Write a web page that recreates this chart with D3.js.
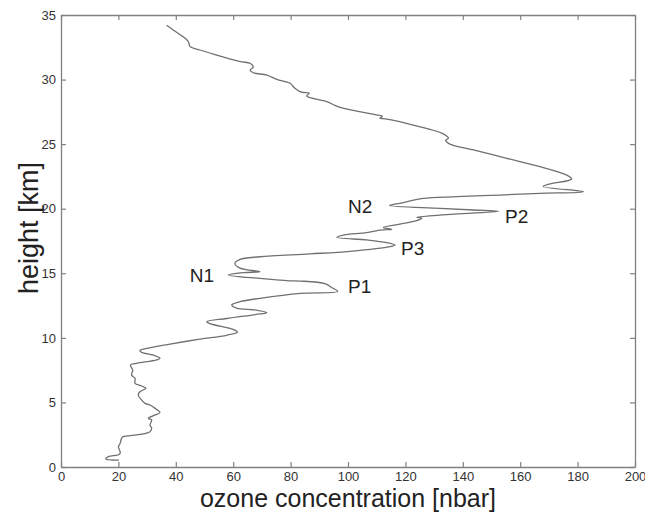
<!DOCTYPE html>
<html>
<head>
<meta charset="utf-8">
<script src="https://cdn.jsdelivr.net/npm/d3@7"></script>
<style>
  body { margin: 0; background: #fff; }
  svg { font-family: "Liberation Sans", Arial, sans-serif; }
</style>
</head>
<body>
<div id="chart"></div>
<script>
// ozone profile, from the ground upward
const ozone = [20.2, 15.6, 16.5, 19.8, 20.6, 20.6, 20, 20.6, 21.1, 21.7, 26.4, 31, 31.6, 31, 31.6, 30.4, 32.8, 34.5,
  32.8, 31, 29.3, 28.1, 26.9, 27.5, 29.6, 28.1, 25.8, 25.8, 24.6, 25, 24.2, 26.4, 33.3, 34.5, 32.2, 28.1, 27.5, 29.9,
  38, 48.4, 57.7, 61.5, 60, 51.9, 50.8, 57.7, 69.3, 71.7, 68, 61.2, 59.5, 62.4, 69.3, 83.3, 96.4, 94.3, 92, 83.3,
  79.8, 69.3, 58.3, 63.5, 69.3, 62.4, 60.6, 62.4, 69.3, 86.8, 100.7, 114.6, 116.4, 113.5, 106.5, 96.1, 98.4, 106.5,
  111.1, 115.2, 112.3, 118.1, 123.9, 125.7, 123.9, 132.1, 152.5, 143.7, 132.1, 114.5, 118.1, 126.2, 137.9, 153,
  166.9, 182, 168, 170, 177.9, 176.2, 166.9, 155.3, 143.7, 135.5, 134, 135, 133.2, 120.4, 113, 111.1, 112, 110,
  97.2, 92.6, 85.6, 86.5, 84.5, 83.3, 81.5, 79.8, 75.2, 71.7, 67, 65.9, 67, 65.9, 62.4, 54.3, 48.4, 45, 44.4,
  43.2, 39.1, 36.8];
const height = [0.54, 0.62, 0.8, 0.93, 1.05, 1.19, 1.57, 1.83, 2.22, 2.35, 2.48, 2.73, 3.0, 3.25, 3.64, 3.77, 4.03, 4.22,
  4.54, 4.8, 4.93, 5.19, 5.58, 5.83, 6.09, 6.27, 6.48, 6.87, 7.12, 7.5, 7.9, 8.03, 8.29, 8.42, 8.67, 8.88, 9.02, 9.19,
  9.52, 9.9, 10.2, 10.45, 10.65, 11.1, 11.25, 11.5, 11.85, 11.95, 12.15, 12.3, 12.55, 12.8, 13.06, 13.45, 13.6, 13.9, 14.2, 14.4,
  14.42, 14.6, 14.87, 15.05, 15.12, 15.4, 15.77, 16.08, 16.28, 16.5, 16.7, 17.06, 17.19, 17.37, 17.58, 17.79, 17.96, 18.15,
  18.35, 18.4, 18.55, 18.8, 19.07, 19.26, 19.33, 19.51, 19.8, 19.9, 20.03, 20.25, 20.42, 20.8, 20.93, 21.06,
  21.19, 21.32, 21.72, 21.9, 22.3, 22.6, 23.25, 23.9, 24.55, 25.0, 25.3, 25.45, 25.8, 26.6, 26.95, 27.0, 27.15, 27.26,
  27.85, 28.29, 28.73, 28.95, 29.0, 29.06, 29.32, 29.71, 30.02, 30.35, 30.53, 30.74, 30.95, 31.26, 31.39, 31.9, 32.29, 32.55, 32.93,
  33.2, 33.84, 34.2];

const xTicks = [0, 20, 40, 60, 80, 100, 120, 140, 160, 180, 200];
const yTicks = [0, 5, 10, 15, 20, 25, 30, 35];

// peak labels, placed at (ozone, height) of the text's left baseline
const labelNames = ["N2", "P2", "P3", "P1", "N1"];
const labelOzone = [100, 154.7, 118.5, 100, 44.9];
const labelHeight = [19.67, 18.89, 16.42, 13.47, 14.33];

const W = 645, H = 513;
const margin = { top: 15, right: 10, bottom: 46, left: 61 };
const width = W - margin.left - margin.right;
const plotH = H - margin.top - margin.bottom;

const svg = d3.select("#chart").append("svg")
  .attr("width", W)
  .attr("height", H);

const g = svg.append("g")
  .attr("transform", `translate(${margin.left},${margin.top})`);

const x = d3.scaleLinear().domain([0, 200]).range([0, width]);
const y = d3.scaleLinear().domain([0, 35]).range([plotH, 0]);

const axisColor = "#808080";

// box with inward ticks, matlab style
const axBottom = g.append("g")
  .attr("transform", `translate(0,${plotH})`)
  .call(d3.axisBottom(x).tickValues(xTicks).tickSizeInner(-5).tickSizeOuter(0).tickPadding(5));
const axLeft = g.append("g")
  .call(d3.axisLeft(y).tickValues(yTicks).tickSizeInner(-5).tickSizeOuter(0).tickPadding(5));
const axTop = g.append("g")
  .call(d3.axisTop(x).tickValues(xTicks).tickSizeInner(-5).tickSizeOuter(0).tickFormat(""));
const axRight = g.append("g")
  .attr("transform", `translate(${width},0)`)
  .call(d3.axisRight(y).tickValues(yTicks).tickSizeInner(-5).tickSizeOuter(0).tickFormat(""));

[axBottom, axLeft, axTop, axRight].forEach(a => {
  a.select(".domain").attr("stroke", axisColor).attr("stroke-width", 1.3);
  a.selectAll(".tick line").attr("stroke", axisColor).attr("stroke-width", 1.2);
  a.selectAll(".tick text").attr("fill", "#333").style("font-size", "13px");
});

// profile curve
const pts = ozone.map((v, i) => [v, height[i]]);
const line = d3.line()
  .x(d => x(d[0]))
  .y(d => y(d[1]))
  .curve(d3.curveCatmullRom.alpha(0.5));

g.append("path")
  .datum(pts)
  .attr("fill", "none")
  .attr("stroke", "#707070")
  .attr("stroke-width", 1.3)
  .attr("d", line);

// labels
g.selectAll(".peak")
  .data(labelNames)
  .enter()
  .append("text")
  .attr("class", "peak")
  .attr("x", (d, i) => x(labelOzone[i]))
  .attr("y", (d, i) => y(labelHeight[i]))
  .style("font-size", "19px")
  .attr("fill", "#222")
  .text(d => d);

// axis titles
svg.append("text")
  .attr("x", margin.left + x(100))
  .attr("y", 507)
  .attr("text-anchor", "middle")
  .style("font-size", "25px")
  .attr("fill", "#222")
  .text("ozone concentration [nbar]");

svg.append("text")
  .attr("transform", `translate(38,${margin.top + y(18.5)}) rotate(-90)`)
  .attr("text-anchor", "middle")
  .style("font-size", "27px")
  .attr("fill", "#222")
  .text("height [km]");
</script>
</body>
</html>
